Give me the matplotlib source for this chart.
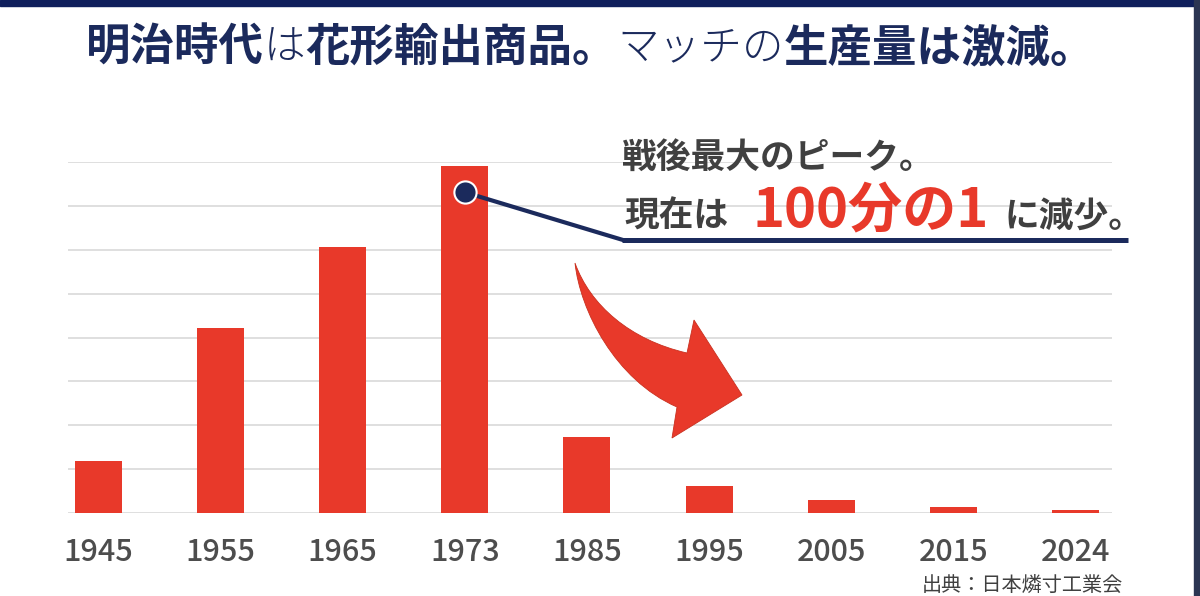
import matplotlib
matplotlib.use("Agg")
import matplotlib.pyplot as plt
from matplotlib.patches import Rectangle, PathPatch
from matplotlib.path import Path
from matplotlib.lines import Line2D

years = ["1945", "1955", "1965", "1973", "1985", "1995", "2005", "2015", "2024"]
production = [1.18, 4.21, 6.06, 7.90, 1.73, 0.62, 0.30, 0.14, 0.07]

W, H = 1200, 596
JP = ["Noto Sans CJK JP", "DejaVu Sans"]
NAVY = "#1b2a5c"
RED = "#e8392a"
GRAY = "#404040"


def fx(px):
    return px / W


def fy(py):
    return 1 - py / H


fig = plt.figure(figsize=(12, 5.96), dpi=100)
fig.patch.set_facecolor("white")

# axes placed to match the pixel layout
ax = fig.add_axes([fx(68), fy(513), fx(1112) - fx(68), fy(162) - fy(513)])
x = list(range(len(years)))
ax.bar(x, production, width=0.385, color=RED, zorder=3)
ax.set_xlim(-0.25, 8.3)
ax.set_ylim(0, 8)
ax.set_yticks(range(0, 9))
ax.yaxis.grid(True, color="#dcdcdc", linewidth=1.3, zorder=0)
ax.set_yticklabels([])
ax.tick_params(axis="y", length=0)
ax.set_xticks(x)
ax.set_xticklabels(years, family=JP, fontsize=22, weight="medium", color="#4d4d4d")
ax.tick_params(axis="x", length=0, pad=17)
for s in ax.spines.values():
    s.set_visible(False)

# frame decorations from the slide
fig.patches.append(Rectangle((0, fy(6)), 1, 6 / H, transform=fig.transFigure,
                             color="#0f1f5c", zorder=5))
fig.patches.append(Rectangle((fx(1194), 0), 6 / W, 1, transform=fig.transFigure,
                             color="#2b3552", zorder=5))

renderer = fig.canvas.get_renderer()


def run_text(parts, x0, y0, va="center"):
    # draw text pieces side by side; a number in place of a string is a gap in px
    cur = x0
    for s, kw in parts:
        if isinstance(s, (int, float)):
            cur += s
            continue
        t = fig.text(fx(cur), fy(y0), s, ha="left", va=va, family=JP, **kw)
        cur += t.get_window_extent(renderer).width
    return cur


# title
b = dict(color=NAVY, fontsize=32, weight="bold")
l = dict(color=NAVY, fontsize=30, weight="light")
run_text([("明治時代", b), ("は", l), ("花形輸出商品。", b), ("マッチの", l),
          ("生産量は激減。", b)], 86, 48)

# callout text
g = dict(color=GRAY, fontsize=25, weight="bold")
r = dict(color=RED, fontsize=39, weight="bold")
run_text([("戦後最大のピーク。", g)], 622, 168, va="baseline")
run_text([("現在は", g), (24, None), ("100分の1", r), (16, None), ("に減少。", g)],
         624, 227, va="baseline")

# underline and connector to the 1973 bar
fig.lines.append(Line2D([fx(622), fx(1128)], [fy(240), fy(240)], transform=fig.transFigure,
                        color=NAVY, linewidth=3.6, solid_capstyle="butt"))
ax.annotate("", xy=(3, 7.31), xycoords="data", xytext=(fx(623), fy(240)),
            textcoords="figure fraction",
            arrowprops=dict(arrowstyle="-", color=NAVY, lw=3, shrinkA=0, shrinkB=0),
            zorder=6)
ax.plot([3], [7.31], marker="o", markersize=16, color=NAVY, markeredgecolor="white",
        markeredgewidth=1.5, zorder=7, clip_on=False)

# big curved arrow (slide decoration, outline in pixel space)
arrow_px = [(575, 263), (580, 310), (615, 380), (677, 407),
            (672, 438), (742, 395), (694, 320), (687, 353),
            (630, 340), (590, 305), (575, 263), (575, 263)]
codes = [Path.MOVETO, Path.CURVE4, Path.CURVE4, Path.CURVE4,
         Path.LINETO, Path.LINETO, Path.LINETO, Path.LINETO,
         Path.CURVE4, Path.CURVE4, Path.CURVE4, Path.CLOSEPOLY]
arrow_path = Path([(fx(px), fy(py)) for px, py in arrow_px], codes)
fig.patches.append(PathPatch(arrow_path, transform=fig.transFigure, facecolor=RED,
                             edgecolor="#c9301f", linewidth=0.6, zorder=6))

# source
fig.text(fx(922), fy(575), "出典：日本燐寸工業会", ha="left", va="top", family=JP,
         fontsize=14.5, color=GRAY)

fig.savefig("out.png", dpi=100)
